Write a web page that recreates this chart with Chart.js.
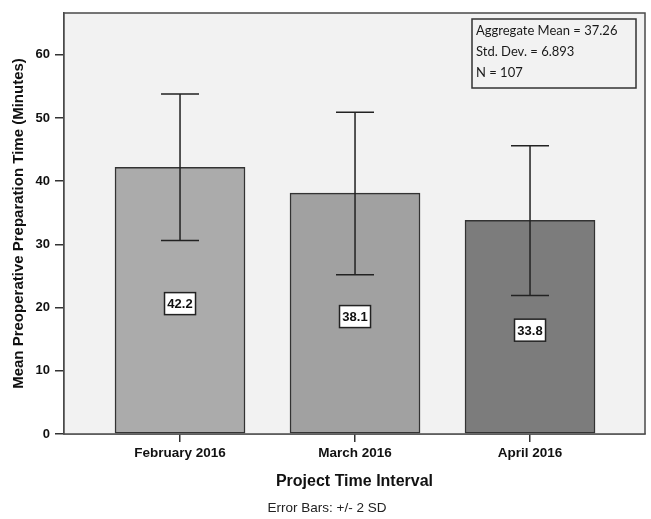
<!DOCTYPE html>
<html>
<head>
<meta charset="utf-8">
<script src="https://cdn.jsdelivr.net/npm/chart.js@4/dist/chart.umd.min.js"></script>
<style>
html,body{margin:0;padding:0;background:#ffffff;}
#wrap{width:651px;height:519px;}
</style>
</head>
<body>
<div id="wrap"><canvas id="c" width="651" height="519"></canvas></div>
<script>
// ---- data ----
const categories = ["February 2016", "March 2016", "April 2016"];
const means = [42.2, 38.1, 33.8];
const lowerBounds = [30.6, 25.2, 21.9];
const upperBounds = [53.8, 50.9, 45.6];
const valueLabels = ["42.2", "38.1", "33.8"];
const barColors = ["#ababab", "#a1a1a1", "#7c7c7c"];
const yTickValues = [0, 10, 20, 30, 40, 50, 60];
const statsLines = ["Aggregate Mean = 37.26", "Std. Dev. = 6.893", "N = 107"];
const yTitle = "Mean Preoperative Preparation Time (Minutes)";
const xTitle = "Project Time Interval";
const footnote = "Error Bars: +/- 2 SD";

const narrow = "'Liberation Sans Narrow', 'Arial Narrow', 'Liberation Sans', Arial, sans-serif";

const plotDecor = {
  id: 'plotDecor',
  beforeDatasetsDraw(chart) {
    const {ctx, chartArea: a} = chart;
    ctx.save();
    ctx.fillStyle = '#f2f2f2';
    ctx.fillRect(a.left, a.top, a.right - a.left, a.bottom - a.top);
    ctx.restore();
  },
  afterDatasetsDraw(chart) {
    const {ctx, chartArea: a, scales} = chart;
    const x = scales.x, y = scales.y;
    ctx.save();
    // error bars
    ctx.strokeStyle = '#222222';
    ctx.lineWidth = 1.5;
    for (let i = 0; i < categories.length; i++) {
      const cx = x.getPixelForValue(i);
      const yl = y.getPixelForValue(lowerBounds[i]);
      const yu = y.getPixelForValue(upperBounds[i]);
      ctx.beginPath();
      ctx.moveTo(cx, yl); ctx.lineTo(cx, yu);
      ctx.moveTo(cx - 19, yu); ctx.lineTo(cx + 19, yu);
      ctx.moveTo(cx - 19, yl); ctx.lineTo(cx + 19, yl);
      ctx.stroke();
    }
    // value label boxes
    ctx.font = "bold 13px " + narrow;
    ctx.textAlign = 'center';
    ctx.textBaseline = 'middle';
    for (let i = 0; i < categories.length; i++) {
      const cx = x.getPixelForValue(i);
      const cy = y.getPixelForValue(means[i] / 2) + 3;
      const w = 31, h = 22;
      ctx.fillStyle = '#ffffff';
      ctx.fillRect(cx - w / 2, cy - h / 2, w, h);
      ctx.strokeStyle = '#222222';
      ctx.lineWidth = 1.5;
      ctx.strokeRect(cx - w / 2, cy - h / 2, w, h);
      ctx.fillStyle = '#111111';
      ctx.fillText(valueLabels[i], cx, cy + 1);
    }
    // plot frame
    ctx.strokeStyle = '#4a4a4a';
    ctx.lineWidth = 1.5;
    ctx.strokeRect(a.left, a.top, a.right - a.left, a.bottom - a.top);
    // stats box
    const bx = a.right - 173, by = a.top + 6, bw = 164, bh = 69;
    ctx.strokeStyle = '#333333';
    ctx.lineWidth = 1.5;
    ctx.strokeRect(bx, by, bw, bh);
    ctx.fillStyle = '#1a1a1a';
    ctx.font = "13px Lato, 'Open Sans', sans-serif";
    ctx.textAlign = 'left';
    ctx.textBaseline = 'middle';
    statsLines.forEach((t, k) => ctx.fillText(t, bx + 4, by + 12 + k * 21));
    // footnote
    ctx.font = "13.5px " + narrow;
    ctx.textAlign = 'center';
    ctx.fillStyle = '#222222';
    ctx.fillText(footnote, 327, 508);
    ctx.restore();
  }
};

new Chart(document.getElementById('c'), {
  type: 'bar',
  data: {
    datasets: [{
      data: means.map((v, i) => ({x: i, y: v})),
      backgroundColor: barColors,
      borderColor: '#333333',
      borderWidth: 1.5,
      borderSkipped: false,
      barThickness: 130
    }]
  },
  plugins: [plotDecor],
  options: {
    responsive: false,
    animation: false,
    layout: {padding: {top: 13, right: 6, left: 0, bottom: 0}},
    plugins: {legend: {display: false}, tooltip: {enabled: false}},
    scales: {
      x: {
        type: 'linear',
        offset: false,
        min: -0.663,
        max: 2.657,
        afterBuildTicks(s) { s.ticks = categories.map((c, i) => ({value: i})); },
        afterFit(s) { s.height = 85; },
        ticks: {
          autoSkip: false,
          maxRotation: 0,
          padding: 3,
          color: '#111111',
          font: {family: narrow, size: 13.5, weight: 'bold'},
          callback: (v) => categories[v]
        },
        grid: {offset: false, drawOnChartArea: false, tickLength: 8, tickColor: '#333333', lineWidth: 1.5},
        border: {display: true, color: '#4a4a4a', width: 1.5},
        title: {
          display: true, text: xTitle, color: '#111111',
          font: {family: narrow, size: 16, weight: 'bold'},
          padding: {top: 0, bottom: 28}
        }
      },
      y: {
        min: 0,
        max: 66.6,
        afterBuildTicks(s) { s.ticks = yTickValues.map(v => ({value: v})); },
        afterFit(s) { s.width = 64; },
        ticks: {
          padding: 5,
          color: '#111111',
          font: {family: narrow, size: 13, weight: 'bold'}
        },
        grid: {drawOnChartArea: false, tickLength: 9, tickColor: '#333333', lineWidth: 1.5},
        border: {display: true, color: '#4a4a4a', width: 1.5},
        title: {
          display: true, text: yTitle, color: '#111111',
          font: {family: narrow, size: 15, weight: 'bold'},
          padding: {top: 10, bottom: 0}
        }
      }
    }
  }
});
</script>
</body>
</html>
